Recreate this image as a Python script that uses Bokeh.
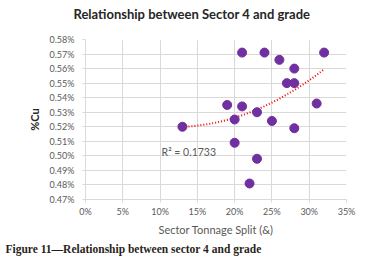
import numpy as np
from bokeh.plotting import figure
from bokeh.models import Range1d, FixedTicker, PrintfTickFormatter, Label, Title
from bokeh.embed import file_html
from bokeh.resources import INLINE

split_pct = [21, 24, 26, 28, 27, 28, 32, 19, 21, 23, 20, 25, 31, 28, 13, 20, 23, 22]
cu_pct = [0.571, 0.571, 0.566, 0.560, 0.550, 0.550, 0.571, 0.535, 0.534, 0.530,
          0.525, 0.524, 0.536, 0.519, 0.520, 0.509, 0.498, 0.481]
x_ticks = [0, 5, 10, 15, 20, 25, 30, 35]
y_ticks = [0.47, 0.48, 0.49, 0.50, 0.51, 0.52, 0.53, 0.54, 0.55, 0.56, 0.57, 0.58]
r2_text = "R² = 0.1733"
title_text = "Relationship between Sector 4 and grade"
caption_text = "Figure 11\u2014Relationship between sector 4 and grade"

W, H = 374, 260
p = figure(width=W, height=H, output_backend="svg", toolbar_location=None,
           x_range=Range1d(0, 35), y_range=Range1d(0.47, 0.58),
           min_border_left=85, min_border_right=28, min_border_top=39, min_border_bottom=61)
p.outline_line_color = None
p.background_fill_color = "white"
p.border_fill_color = "white"
p.title.visible = False

grid_col = "#d9d9d9"
p.xaxis.ticker = FixedTicker(ticks=x_ticks)
p.yaxis.ticker = FixedTicker(ticks=y_ticks)
p.xaxis.formatter = PrintfTickFormatter(format="%d%%")
p.yaxis.formatter = PrintfTickFormatter(format="%.2f%%")
for ax in (p.xaxis, p.yaxis):
    ax.axis_line_color = grid_col
    ax.major_tick_line_color = grid_col
    ax.major_tick_in = 0
    ax.major_tick_out = 3
    ax.minor_tick_line_color = None
    ax.major_label_text_font = "Lato"
    ax.major_label_text_font_size = "9px"
    ax.major_label_text_color = "#595959"
p.yaxis.major_label_standoff = 8
p.xaxis.major_label_standoff = 3
p.xaxis.axis_label = "Sector Tonnage Split (&)"
p.xaxis.axis_label_text_font = "Lato"
p.xaxis.axis_label_text_font_style = "normal"
p.xaxis.axis_label_text_font_size = "11px"
p.xaxis.axis_label_text_color = "#595959"
p.xaxis.axis_label_standoff = 3
p.xgrid.grid_line_color = grid_col
p.ygrid.grid_line_color = grid_col

# quadratic trendline fitted to the data
coef = np.polyfit(split_pct, cu_pct, 2)
tx = np.linspace(min(split_pct), max(split_pct), 60)
ty = np.polyval(coef, tx)
p.line(tx, ty, line_color="#ff0000", line_width=2, line_dash="1 2")

p.scatter(split_pct, cu_pct, size=9, fill_color="#7030a0", line_color="#7030a0")

p.add_layout(Label(x=10.2, y=0.5024, text=r2_text, text_font="Lato", text_font_size="10.5px",
                   text_color="#595959", text_baseline="middle", text_align="left"))

# blank spacer between frame and title, then the title itself
p.add_layout(Title(text=" ", standoff=0, text_font="Lato", text_font_size="13px"), "above")
p.add_layout(Title(text=title_text, align="left", offset=-12, standoff=0,
                   text_font="Lato", text_font_style="bold", text_font_size="13px",
                   text_color="#262626"), "above")
p.add_layout(Title(text="%Cu", align="center", standoff=12,
                   text_font="Lato", text_font_style="bold", text_font_size="11px",
                   text_color="#262626"), "left")
p.add_layout(Title(text=caption_text, align="left", offset=-80, standoff=5,
                   text_font="Liberation Serif", text_font_style="bold", text_font_size="11.5px",
                   text_color="#2a1f1a"), "below")

open("out.html", "w").write(file_html(p, INLINE))
